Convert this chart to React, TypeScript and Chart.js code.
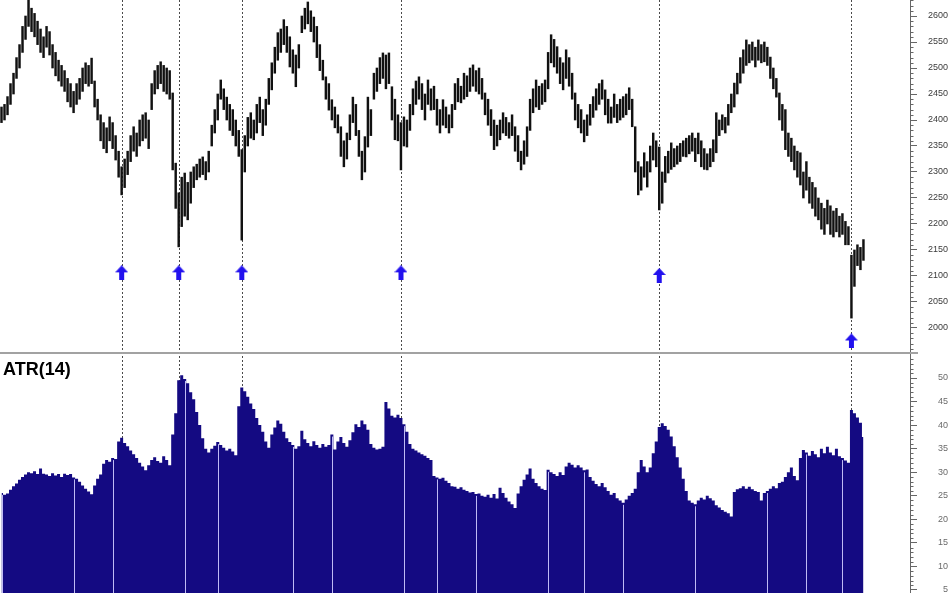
import React, { useEffect, useRef } from 'react';
import { Chart, registerables } from 'chart.js';

Chart.register(...registerables);
Chart.defaults.font.family = "'Liberation Sans', Arial, sans-serif";

// ---- data ----
const SLOTS = 303; // category slots across the plot (last ones empty)

const highs = [
  2425, 2430, 2445, 2470, 2490, 2520, 2545, 2580, 2600, 2631,
  2615, 2605, 2590, 2575, 2560, 2580, 2570, 2545, 2530, 2515,
  2505, 2495, 2480, 2470, 2455, 2470, 2480, 2500, 2510, 2505,
  2519, 2475, 2440, 2410, 2395, 2385, 2406, 2395, 2370, 2340,
  2310, 2325, 2340, 2370, 2387, 2375, 2400, 2410, 2414, 2400,
  2470, 2495, 2505, 2512, 2505, 2500, 2495, 2452, 2317, 2260,
  2290, 2298, 2280, 2300, 2310, 2315, 2325, 2329, 2320, 2340,
  2390, 2420, 2450, 2477, 2460, 2444, 2430, 2420, 2400, 2380,
  2343, 2370, 2405, 2414, 2400, 2430, 2444, 2420, 2440, 2480,
  2510, 2540, 2568, 2575, 2593, 2580, 2560, 2535, 2525, 2545,
  2600, 2615, 2627, 2610, 2598, 2580, 2545, 2515, 2483, 2470,
  2439, 2425, 2410, 2387, 2360, 2375, 2410, 2444, 2430, 2380,
  2340, 2368, 2444, 2420, 2490, 2500, 2520, 2529, 2525, 2529,
  2464, 2440, 2410, 2395, 2406, 2400, 2430, 2460, 2475, 2483,
  2470, 2450, 2477, 2460, 2465, 2440, 2420, 2439, 2425, 2410,
  2430, 2470, 2480, 2465, 2490, 2485, 2500, 2506, 2495, 2500,
  2480, 2452, 2440, 2420, 2400, 2390, 2400, 2414, 2405, 2395,
  2410, 2387, 2370, 2340, 2360, 2387, 2440, 2460, 2477, 2465,
  2470, 2477, 2530, 2564, 2555, 2541, 2520, 2510, 2535, 2520,
  2490, 2452, 2430, 2420, 2400, 2410, 2430, 2445, 2460, 2470,
  2477, 2458, 2440, 2425, 2450, 2430, 2440, 2445, 2450, 2462,
  2440, 2387, 2320, 2310, 2337, 2320, 2350, 2375, 2360, 2348,
  2300, 2330, 2340, 2356, 2345, 2350, 2355, 2360, 2365, 2370,
  2375, 2365, 2375, 2360, 2345, 2335, 2345, 2362, 2414, 2400,
  2410, 2405, 2430, 2450, 2471, 2490, 2520, 2535, 2554, 2545,
  2550, 2540, 2554, 2545, 2550, 2540, 2521, 2500, 2480, 2452,
  2430, 2420, 2375, 2365, 2350, 2340, 2337, 2300, 2320, 2290,
  2280, 2270, 2250, 2240, 2230, 2246, 2235, 2225, 2230, 2215,
  2220, 2205, 2195, 2140, 2150, 2160, 2155, 2170,
];

const lows = [
  2395, 2400, 2410, 2430, 2450, 2480, 2500, 2530, 2555, 2580,
  2570, 2560, 2545, 2530, 2520, 2540, 2525, 2500, 2485, 2475,
  2465, 2455, 2435, 2425, 2414, 2430, 2440, 2455, 2470, 2465,
  2470, 2425, 2400, 2360, 2345, 2337, 2360, 2345, 2323, 2290,
  2256, 2270, 2295, 2320, 2340, 2330, 2350, 2360, 2365, 2345,
  2420, 2450, 2460, 2470, 2455, 2450, 2440, 2304, 2230, 2156,
  2195, 2215, 2208, 2240, 2270, 2285, 2290, 2295, 2285, 2300,
  2350, 2375, 2400, 2440, 2420, 2400, 2380, 2370, 2350, 2330,
  2169, 2300, 2350, 2365, 2362, 2375, 2395, 2370, 2390, 2430,
  2458, 2490, 2515, 2530, 2545, 2530, 2502, 2490, 2464, 2500,
  2568, 2575, 2585, 2570, 2550, 2520, 2495, 2477, 2440, 2419,
  2400, 2385, 2375, 2330, 2310, 2325, 2362, 2395, 2370, 2330,
  2285, 2300, 2348, 2370, 2440, 2455, 2470, 2480, 2460, 2470,
  2400, 2362, 2360, 2304, 2350, 2348, 2380, 2410, 2430, 2440,
  2420, 2400, 2430, 2419, 2420, 2390, 2375, 2390, 2385, 2375,
  2385, 2420, 2435, 2433, 2440, 2445, 2455, 2465, 2455, 2450,
  2440, 2410, 2390, 2370, 2343, 2350, 2362, 2375, 2370, 2365,
  2370, 2340, 2320, 2304, 2315, 2330, 2380, 2414, 2425, 2420,
  2430, 2435, 2460, 2510, 2502, 2490, 2470, 2458, 2480, 2465,
  2440, 2400, 2385, 2375, 2358, 2370, 2390, 2405, 2419, 2430,
  2440, 2410, 2394, 2394, 2405, 2395, 2400, 2405, 2410, 2420,
  2387, 2300, 2256, 2265, 2290, 2271, 2300, 2323, 2310, 2227,
  2240, 2280, 2298, 2305, 2310, 2315, 2320, 2330, 2329, 2335,
  2340, 2320, 2335, 2310, 2305, 2304, 2310, 2320, 2337, 2370,
  2381, 2375, 2390, 2414, 2425, 2450, 2471, 2490, 2505, 2510,
  2515, 2502, 2515, 2510, 2512, 2505, 2480, 2460, 2444, 2400,
  2380, 2343, 2330, 2320, 2304, 2290, 2275, 2250, 2265, 2240,
  2230, 2215, 2208, 2190, 2180, 2200, 2180, 2175, 2185, 2175,
  2180, 2160, 2160, 2019, 2080, 2120, 2112, 2130,
];

const atr = [
  25.6, 25.2, 25.5, 26.3, 27.0, 27.6, 28.4, 29.0, 29.5, 30.0,
  29.8, 30.2, 29.6, 30.8, 29.7, 29.5, 29.2, 29.8, 29.3, 29.6,
  29.0, 29.7, 29.4, 29.6, 28.9, 28.6, 28.0, 27.2, 26.5, 25.9,
  25.3, 27.2, 28.6, 29.5, 31.8, 32.6, 32.2, 33.0, 32.8, 36.5,
  37.3, 36.2, 35.5, 34.6, 33.8, 33.0, 32.0, 31.2, 30.4, 31.5,
  32.6, 33.2, 32.4, 32.0, 33.4, 32.6, 31.5, 38.0, 42.5, 49.5,
  50.6, 49.8, 48.9, 47.0, 45.5, 42.8, 40.0, 37.2, 35.0, 34.2,
  35.0, 35.6, 36.4, 35.8, 35.2, 34.6, 35.0, 34.4, 33.6, 44.0,
  48.0, 47.2, 46.0, 44.6, 43.4, 41.5, 40.0, 38.6, 36.5, 35.2,
  38.0, 39.5, 41.0, 40.3, 38.6, 37.2, 36.4, 35.8, 35.0, 35.5,
  38.8, 37.0, 36.2, 35.5, 36.6, 35.8, 35.2, 36.0, 35.4, 35.8,
  38.0, 34.8, 36.5, 37.5, 36.2, 35.4, 36.8, 38.5, 40.2, 39.6,
  41.0, 40.2, 39.0, 36.0, 35.2, 34.8, 35.0, 35.4, 44.9, 43.5,
  42.0, 41.6, 42.2, 41.5, 40.2, 38.6, 36.0, 35.0, 34.6, 34.2,
  33.8, 33.5, 33.0, 32.6, 29.2, 28.9, 28.6, 28.8, 28.2, 27.7,
  27.0, 26.9, 26.5, 26.8, 26.3, 26.0, 25.7, 25.8, 25.4, 25.5,
  25.0, 24.8, 25.2, 24.6, 25.4, 24.4, 26.7, 25.6, 24.6, 23.8,
  23.2, 22.4, 25.5, 27.0, 28.4, 29.5, 30.8, 28.6, 27.7, 27.0,
  26.5, 26.2, 30.5, 30.0, 29.6, 29.2, 30.0, 29.4, 31.2, 32.0,
  31.6, 31.0, 31.5, 31.0, 30.4, 30.6, 29.0, 28.2, 27.5, 27.0,
  27.7, 26.8, 26.0, 25.2, 25.6, 24.5, 24.0, 23.5, 24.2, 25.0,
  25.6, 26.5, 30.0, 32.6, 31.2, 30.0, 31.0, 34.0, 36.5, 39.6,
  40.4, 39.8, 39.0, 37.6, 35.5, 33.2, 31.0, 28.6, 26.0, 24.0,
  23.5, 23.2, 24.0, 24.6, 24.2, 25.0, 24.5, 24.0, 23.0, 22.5,
  22.0, 21.6, 21.3, 20.6, 25.8, 26.4, 26.6, 27.0, 26.5, 26.9,
  26.4, 26.0, 25.8, 24.0, 25.6, 26.0, 26.5, 27.0, 26.6, 27.7,
  28.0, 29.0, 30.0, 31.0, 29.2, 28.3, 33.0, 34.7, 34.2, 33.5,
  34.5, 33.8, 33.2, 35.0, 34.0, 35.4, 34.2, 33.6, 35.0, 33.4,
  33.0, 32.5, 32.0, 43.2, 42.5, 41.6, 40.5, 37.5,
];

// signal bars (dotted verticals + arrows)
const signalIdx = [40, 59, 80, 133, 219, 283];
const arrowLevel = [2106, 2106, 2106, 2106, 2101, 1975];

// period separators in the ATR panel
const separatorIdx = [0, 24, 37, 61, 72, 97, 110, 134, 145, 158, 182, 194, 207, 231, 255, 268, 280];

// axis ranges / tick steps
const priceAxis = { min: 1953.8, max: 2630.8, major: 50, minor: 10 };
const atrAxis = { min: 4.36, max: 55.52, major: 5, minor: 1, maxLabel: 50 };

const NAVY = '#140a82';
const AXIS_X = 910;

function makeArrow(): HTMLCanvasElement {
  const c = document.createElement('canvas');
  c.width = 13;
  c.height = 15;
  const g = c.getContext('2d')!;
  g.fillStyle = '#2211ee';
  g.beginPath();
  g.moveTo(6.5, 0);
  g.lineTo(13, 7);
  g.lineTo(0, 7);
  g.closePath();
  g.fill();
  g.fillRect(4, 6.5, 5, 8.5);
  return c;
}

function overlayPlugin(opts: { minor: number; major: number; separators?: boolean; topRule?: boolean }) {
  return {
    id: 'overlay',
    beforeDatasetsDraw(chart: any) {
      const { ctx, chartArea, scales } = chart;
      ctx.save();
      ctx.strokeStyle = '#4a4a4a';
      ctx.lineWidth = 1;
      ctx.setLineDash([2, 2]);
      signalIdx.forEach((idx) => {
        const x = Math.round(scales.x.getPixelForValue(idx)) + 0.5;
        ctx.beginPath();
        ctx.moveTo(x, chartArea.top);
        ctx.lineTo(x, chartArea.bottom);
        ctx.stroke();
      });
      ctx.restore();
    },
    afterDatasetsDraw(chart: any) {
      if (!opts.separators) return;
      const { ctx, chartArea, scales } = chart;
      ctx.save();
      ctx.strokeStyle = 'rgba(200,196,250,0.95)';
      ctx.lineWidth = 1;
      separatorIdx.forEach((idx) => {
        const x = Math.round(scales.x.getPixelForValue(idx)) + 0.5;
        const y = scales.y.getPixelForValue(atr[idx]) + 2;
        ctx.beginPath();
        ctx.moveTo(x, y);
        ctx.lineTo(x, chartArea.bottom);
        ctx.stroke();
      });
      ctx.restore();
    },
    afterDraw(chart: any) {
      const { ctx, scales } = chart;
      const y = scales.y;
      ctx.save();
      ctx.strokeStyle = '#666';
      ctx.lineWidth = 1;
      const start = Math.ceil(y.min / opts.minor);
      const end = Math.floor(y.max / opts.minor);
      for (let k = start; k <= end; k++) {
        const v = k * opts.minor;
        if (Math.abs(v / opts.major - Math.round(v / opts.major)) < 1e-6) continue;
        const py = Math.round(y.getPixelForValue(v)) + 0.5;
        ctx.beginPath();
        ctx.moveTo(AXIS_X, py);
        ctx.lineTo(AXIS_X + 3.5, py);
        ctx.stroke();
      }
      if (opts.topRule) {
        ctx.fillStyle = '#a2a2a2';
        ctx.fillRect(0, 0, AXIS_X + 8, 2);
      }
      ctx.restore();
    },
  };
}

function yAxis(range: { min: number; max: number }, step: number, padding: number, color: string, maxLabel?: number) {
  return {
    position: 'right',
    min: range.min,
    max: range.max,
    border: { display: true, color: '#666', width: 1 },
    grid: { drawOnChartArea: false, drawTicks: true, tickLength: 7, tickColor: '#666' },
    ticks: {
      stepSize: step,
      includeBounds: false,
      autoSkip: false,
      crossAlign: 'far',
      padding,
      color,
      font: { size: 9, family: "'Liberation Sans', Arial, sans-serif" },
      callback: (v: number) => String(v),
    },
    afterBuildTicks(scale: any) {
      if (maxLabel !== undefined) scale.ticks = scale.ticks.filter((t: any) => t.value <= maxLabel);
    },
    afterFit(scale: any) {
      scale.width = 948 - AXIS_X;
      scale.paddingTop = 0;
      scale.paddingBottom = 0;
    },
  };
}

export default function App() {
  const topRef = useRef<HTMLCanvasElement>(null);
  const botRef = useRef<HTMLCanvasElement>(null);

  useEffect(() => {
    const labels = Array.from({ length: SLOTS }, (_, i) => String(i));
    const arrowData: (number | null)[] = new Array(SLOTS).fill(null);
    signalIdx.forEach((idx, k) => {
      arrowData[idx] = arrowLevel[k];
    });
    const arrowImg = makeArrow();

    const top = new Chart(topRef.current!, {
      type: 'bar',
      data: {
        labels,
        datasets: [
          {
            type: 'line',
            data: arrowData,
            showLine: false,
            borderWidth: 0,
            pointStyle: arrowImg as any,
            pointRadius: (c: any) => (arrowData[c.dataIndex] == null ? 0 : 7),
            pointBorderWidth: 0,
            order: 0,
          } as any,
          {
            type: 'bar',
            data: highs.map((h, i) => [lows[i], h]),
            backgroundColor: '#111',
            borderWidth: 0,
            barThickness: 1.8,
            order: 1,
          } as any,
        ],
      },
      options: {
        animation: false,
        responsive: false,
        events: [],
        layout: { padding: 0 },
        plugins: { legend: { display: false }, tooltip: { enabled: false } },
        scales: {
          x: { type: 'category', offset: true, display: false },
          y: yAxis(priceAxis, priceAxis.major, 8, '#3a3a3a') as any,
        },
      },
      plugins: [overlayPlugin({ minor: priceAxis.minor, major: priceAxis.major })],
    });

    const bot = new Chart(botRef.current!, {
      type: 'line',
      data: {
        labels,
        datasets: [
          {
            data: atr,
            borderColor: NAVY,
            backgroundColor: NAVY,
            borderWidth: 0,
            fill: 'start',
            pointRadius: 0,
            stepped: 'middle',
          },
        ],
      },
      options: {
        animation: false,
        responsive: false,
        events: [],
        layout: { padding: 0 },
        plugins: { legend: { display: false }, tooltip: { enabled: false } },
        scales: {
          x: { type: 'category', offset: true, display: false },
          y: yAxis(atrAxis, atrAxis.major, 18, '#6a6a6a', atrAxis.maxLabel) as any,
        },
      },
      plugins: [overlayPlugin({ minor: atrAxis.minor, major: atrAxis.major, separators: true, topRule: true })],
    });

    return () => {
      top.destroy();
      bot.destroy();
    };
  }, []);

  return (
    <div style={{ position: 'absolute', left: 0, top: 0, width: 948, height: 593, background: '#fff', overflow: 'hidden' }}>
      <canvas ref={topRef} width={948} height={352} style={{ position: 'absolute', left: 0, top: 0, width: 948, height: 352 }} />
      <canvas ref={botRef} width={948} height={241} style={{ position: 'absolute', left: 0, top: 352, width: 948, height: 241 }} />
      <div
        style={{
          position: 'absolute',
          left: 3,
          top: 360,
          font: "bold 18px 'Liberation Sans', Arial, sans-serif",
          lineHeight: '18px',
          color: '#000',
        }}
      >
        ATR(14)
      </div>
    </div>
  );
}
